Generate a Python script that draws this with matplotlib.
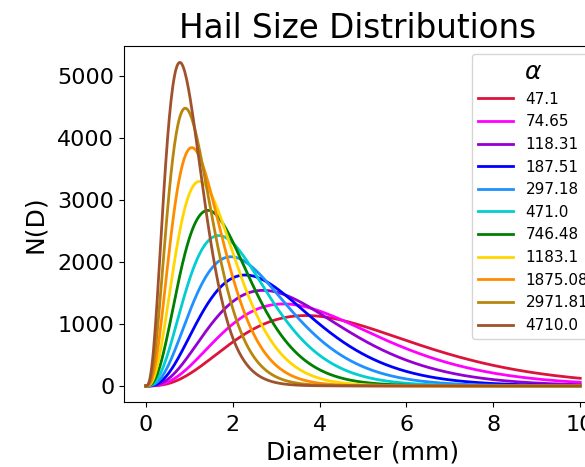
import numpy as np
import matplotlib
matplotlib.use("Agg")
import matplotlib.pyplot as plt

# Legend values (alpha) and curve parameters
alpha_labels = ["47.1", "74.65", "118.31", "187.51", "297.18", "471.0",
                "746.48", "1183.1", "1875.08", "2971.81", "4710.0"]
peak_diameter = [3.68, 3.17, 2.70, 2.29, 1.96, 1.68, 1.43, 1.235, 1.06, 0.91, 0.785]
peak_value = [1134, 1321, 1540, 1787, 2081, 2423, 2829, 3295, 3840, 4475, 5213]
shape_mu = 3.1
colors = ["crimson", "magenta", "darkviolet", "blue", "dodgerblue", "darkturquoise",
          "green", "gold", "darkorange", "darkgoldenrod", "sienna"]

D = np.linspace(0, 10, 500)

fig = plt.figure(figsize=(5.85, 4.67), dpi=100)
ax = fig.add_axes([0.212, 0.139, 0.817, 0.762])

for lab, dp, pv, c in zip(alpha_labels, peak_diameter, peak_value, colors):
    t = D / dp
    N = pv * (t * np.exp(1 - t)) ** shape_mu
    ax.plot(D, N, color=c, lw=2, label=lab)

ax.set_title("Hail Size Distributions", fontsize=23.5, x=0.489)
ax.set_xlabel("Diameter (mm)", fontsize=18, labelpad=4)
ax.set_ylabel("N(D)", fontsize=18, labelpad=7.5)
ax.tick_params(labelsize=16)
ax.tick_params(axis="x", pad=6)
ax.set_xticks([0, 2, 4, 6, 8, 10])
ax.set_yticks([0, 1000, 2000, 3000, 4000, 5000])
leg = ax.legend(title=r"$\alpha$", fontsize=11, title_fontsize=18,
                loc="upper right", handlelength=2.3)

fig.savefig("out.png", dpi=100)
